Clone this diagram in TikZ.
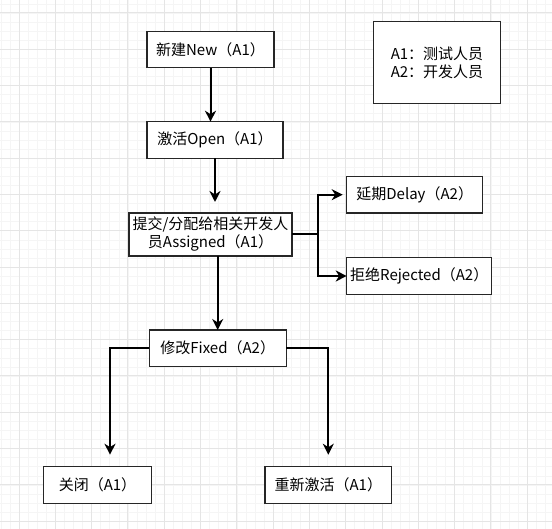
\documentclass[tikz,border=0pt]{standalone}
\usepackage{fontspec}
\setmainfont{Noto Sans CJK SC}
\usetikzlibrary{arrows.meta}

\begin{document}
\begin{tikzpicture}[x=1pt,y=-1pt,>={Stealth[length=11pt,width=11pt,inset=3.5pt]},
  font=\fontsize{15}{18}\selectfont,
  box/.style={draw=black!85,fill=white,line width=1.1pt,inner sep=0pt,outer sep=0pt,minimum height=36.6pt},
  flow/.style={->,line width=2pt}]
\useasboundingbox (0,0) rectangle (552,529);
\begin{scope}
\clip (0,0) rectangle (552,529);
\foreach \i in {-2,...,60} {
  \draw[black!4,line width=0.6pt] ({19+9.075*\i},0) -- ({19+9.075*\i},529);
  \draw[black!4,line width=0.6pt] (0,{13+9.075*\i}) -- (552,{13+9.075*\i});
}
\foreach \i in {0,...,15} {
  \draw[black!10,line width=1pt] ({19+36.3*\i},0) -- ({19+36.3*\i},529);
  \draw[black!10,line width=1pt] (0,{13+36.3*\i}) -- (552,{13+36.3*\i});
}
\end{scope}
% states
\node[box,minimum width=127pt] (new) at (210.5,49.5) {新建New（A1）};
\node[box,minimum width=136pt] (open) at (215,140) {激活Open（A1）};
\node[box,minimum width=163pt,minimum height=43pt,align=center] (assign) at (210.5,234.5) {提交/分配给相关开发人\\员Assigned（A1）};
\node[box,minimum width=136pt] (delay) at (414.7,194.7) {延期Delay（A2）};
\node[box,minimum width=145pt] (reject) at (419.2,276) {拒绝Rejected（A2）};
\node[box,minimum width=137pt] (fixed) at (217.7,348.3) {修改Fixed（A2）};
\node[box,minimum width=108.4pt] (close) at (97.5,485) {关闭（A1）};
\node[box,minimum width=126.7pt] (reopen) at (328.3,485) {重新激活（A1）};
% roles
\node[box,minimum width=127.4pt,minimum height=81.6pt,align=left] (roles) at (437,62.5) {A1：测试人员\\A2：开发人员};
% transitions
\coordinate (split) at (318,234.5);
\draw[flow] (new.south) -- (new.south |- open.north);
\draw[flow,shorten >=11pt] (open.south) -- (open.south |- assign.north);
\draw[line width=2pt] (assign.east) -- (split);
\draw[flow,shorten >=4pt] (split) |- (delay.west);
\draw[flow] (split) |- (reject.west);
\draw[flow] (assign.south -| fixed.north) -- (fixed.north);
\draw[flow,shorten >=12pt] (fixed.west) -| ([xshift=12.5pt]close.north);
\draw[flow,shorten >=12pt] (fixed.east) -| (reopen.north);
\end{tikzpicture}
\end{document}
